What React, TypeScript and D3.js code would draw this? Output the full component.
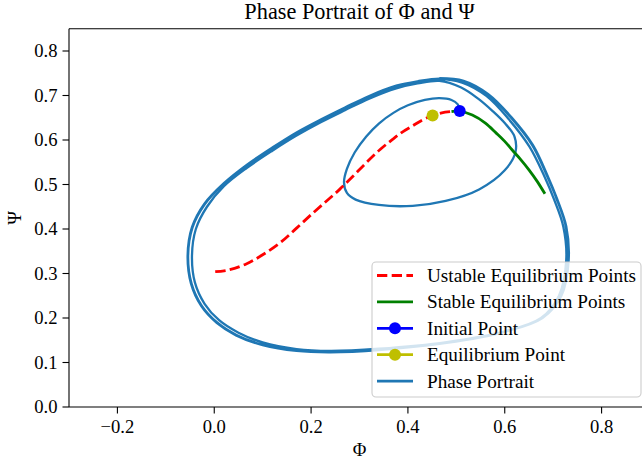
import React from 'react';
import * as d3 from 'd3';

const W = 642;
const H = 463;

// axis limits and ticks
const xDomain: [number, number] = [-0.3, 0.9];
const yDomain: [number, number] = [0, 0.85];
const xTicks = [-0.2, 0.0, 0.2, 0.4, 0.6, 0.8];
const yTicks = [0.0, 0.1, 0.2, 0.3, 0.4, 0.5, 0.6, 0.7, 0.8];

const titleText = 'Phase Portrait of Φ and Ψ';
const xLabel = 'Φ';
const yLabel = 'Ψ';

// unstable equilibrium points (red dashed)
const unstablePhi = [0.002, 0.03, 0.067, 0.10, 0.136, 0.17, 0.204, 0.232, 0.259, 0.287, 0.314, 0.342, 0.369, 0.39, 0.41, 0.43, 0.451, 0.47, 0.49];
const unstablePsi = [0.304, 0.308, 0.322, 0.342, 0.369, 0.402, 0.436, 0.463, 0.489, 0.519, 0.549, 0.578, 0.602, 0.619, 0.632, 0.645, 0.655, 0.661, 0.664];

// stable equilibrium points (green)
const stablePhi = [0.49, 0.507, 0.533, 0.56, 0.582, 0.60, 0.615, 0.633, 0.650, 0.667, 0.683];
const stablePsi = [0.664, 0.665, 0.656, 0.638, 0.616, 0.597, 0.578, 0.556, 0.533, 0.507, 0.479];

const initialPoint: [number, number] = [0.507, 0.665];
const equilibriumPoint: [number, number] = [0.451, 0.655];

// phase portrait trajectory: inner loop, then three outer loops
const innerLoop: [number, number][] = [
  [0.507, 0.665], [0.503, 0.680], [0.49, 0.690], [0.465, 0.694], [0.435, 0.690], [0.40, 0.678],
  [0.37, 0.661], [0.34, 0.637], [0.314, 0.608], [0.29, 0.572], [0.274, 0.535], [0.268, 0.505],
  [0.274, 0.481], [0.292, 0.466], [0.34, 0.454], [0.41, 0.452], [0.478, 0.463], [0.547, 0.489],
  [0.600, 0.532], [0.622, 0.572], [0.62, 0.608], [0.60, 0.638], [0.575, 0.665], [0.545, 0.693],
  [0.51, 0.718],
];
const outerLoop1: [number, number][] = [
  [0.465, 0.733], [0.42, 0.727], [0.376, 0.716], [0.32, 0.693], [0.27, 0.667], [0.22, 0.640],
  [0.17, 0.610], [0.12, 0.576], [0.067, 0.537], [0.02, 0.496], [-0.015, 0.450], [-0.038, 0.400],
  [-0.046, 0.340], [-0.040, 0.280], [-0.020, 0.232], [0.01, 0.195], [0.05, 0.167], [0.10, 0.145],
  [0.17, 0.130], [0.24, 0.126], [0.34, 0.131], [0.48, 0.146], [0.60, 0.170], [0.675, 0.200],
  [0.712, 0.250], [0.727, 0.330], [0.721, 0.405], [0.702, 0.466], [0.682, 0.518], [0.651, 0.585],
  [0.608, 0.647], [0.562, 0.699], [0.512, 0.729],
];
const outerLoop2: [number, number][] = [
  [0.465, 0.737], [0.42, 0.731], [0.376, 0.721], [0.32, 0.698], [0.27, 0.672], [0.22, 0.645],
  [0.17, 0.616], [0.12, 0.582], [0.067, 0.543], [0.02, 0.502], [-0.02, 0.455], [-0.045, 0.403],
  [-0.054, 0.340], [-0.047, 0.278], [-0.026, 0.228], [0.006, 0.190], [0.046, 0.162], [0.10, 0.140],
  [0.17, 0.127], [0.24, 0.124], [0.34, 0.129], [0.48, 0.145], [0.60, 0.170], [0.677, 0.200],
  [0.716, 0.250], [0.731, 0.330], [0.726, 0.406], [0.707, 0.468], [0.687, 0.520], [0.657, 0.588],
  [0.613, 0.650], [0.565, 0.702], [0.514, 0.732],
];
const outerLoop3: [number, number][] = [
  [0.465, 0.738], [0.42, 0.732], [0.376, 0.722], [0.32, 0.699], [0.27, 0.673], [0.22, 0.646],
  [0.17, 0.617], [0.12, 0.583], [0.067, 0.544], [0.02, 0.503], [-0.021, 0.456], [-0.046, 0.404],
  [-0.055, 0.340], [-0.048, 0.277], [-0.027, 0.227], [0.005, 0.189], [0.045, 0.161], [0.10, 0.139],
  [0.17, 0.126], [0.24, 0.123], [0.34, 0.128], [0.48, 0.144], [0.60, 0.169], [0.678, 0.200],
  [0.717, 0.250], [0.732, 0.330], [0.727, 0.406], [0.708, 0.468], [0.688, 0.521], [0.658, 0.589],
  [0.614, 0.651], [0.566, 0.703], [0.515, 0.733], [0.465, 0.739],
];

const legendLabels = [
  'Ustable Equilibrium Points',
  'Stable Equilibrium Points',
  'Initial Point',
  'Equilibrium Point',
  'Phase Portrait',
];

const FONT = '"Liberation Serif", "DejaVu Serif", serif';
const C_PORTRAIT = '#1f77b4';

export default function App() {
  const x = d3.scaleLinear().domain(xDomain).range([69, 650]);
  const y = d3.scaleLinear().domain(yDomain).range([407, 28.75]);
  const fmt = d3.format('.1f');

  const line = d3
    .line<[number, number]>()
    .x((d) => x(d[0]))
    .y((d) => y(d[1]))
    .curve(d3.curveCatmullRom.alpha(0.5));

  const unstable: [number, number][] = unstablePhi.map((v, i) => [v, unstablePsi[i]]);
  const stable: [number, number][] = stablePhi.map((v, i) => [v, stablePsi[i]]);
  const trajectory = [...innerLoop, ...outerLoop1, ...outerLoop2, ...outerLoop3];

  const x0 = 69, x1 = 650, yTop = 28.75, yBot = 407;
  const fs = 18.6;
  const legFs = 19.2;

  const legX = 372, legY = 262, legW = 269, legH = 135;
  const rowY = (i: number) => legY + 13.5 + i * 26.4;

  return (
    <svg width={W} height={H} style={{ position: 'absolute', left: 0, top: 0, background: '#fff' }} fontFamily={FONT}>
      <rect x={0} y={0} width={W} height={H} fill="#fff" />
      {/* data */}
      <path d={line(trajectory) || ''} fill="none" stroke={C_PORTRAIT} strokeWidth={2.3} strokeLinejoin="round" />
      <path d={line(unstable) || ''} fill="none" stroke="red" strokeWidth={2.8} strokeDasharray="10.3,4.4" />
      <path d={line(stable) || ''} fill="none" stroke="green" strokeWidth={2.8} />
      <circle cx={x(initialPoint[0])} cy={y(initialPoint[1])} r={6} fill="blue" />
      <circle cx={x(equilibriumPoint[0])} cy={y(equilibriumPoint[1])} r={6} fill="#bfbf00" />

      {/* spines */}
      <g stroke="#000" strokeWidth={1.1} fill="none">
        <line x1={x0} x2={x0} y1={yTop} y2={yBot} />
        <line x1={x1} x2={x1} y1={yTop} y2={yBot} />
        <line x1={x0} x2={x1} y1={yTop} y2={yTop} />
        <line x1={x0} x2={x1} y1={yBot} y2={yBot} />
      </g>

      {/* x ticks */}
      {xTicks.map((t) => (
        <g key={'x' + t}>
          <line x1={x(t)} x2={x(t)} y1={yBot} y2={yBot + 6.5} stroke="#000" strokeWidth={1.1} />
          <text x={x(t)} y={433} textAnchor="middle" fontSize={fs} fill="#000">{fmt(t)}</text>
        </g>
      ))}
      {/* y ticks */}
      {yTicks.map((t) => (
        <g key={'y' + t}>
          <line x1={x0 - 6.5} x2={x0} y1={y(t)} y2={y(t)} stroke="#000" strokeWidth={1.1} />
          <text x={57.5} y={y(t)} dy="0.34em" textAnchor="end" fontSize={fs} fill="#000">{fmt(t)}</text>
        </g>
      ))}

      {/* labels */}
      <text x={(x0 + x1) / 2} y={18.5} textAnchor="middle" fontSize={22.3} fill="#000">{titleText}</text>
      <text x={(x0 + x1) / 2} y={456} textAnchor="middle" fontSize={fs} fill="#000">{xLabel}</text>
      <text transform={`translate(21, ${(yTop + yBot) / 2}) rotate(-90)`} textAnchor="middle" fontSize={fs} fill="#000">{yLabel}</text>

      {/* legend */}
      <rect x={legX} y={legY} width={legW} height={legH} rx={4} ry={4} fill="#fff" fillOpacity={0.8} stroke="#cccccc" strokeWidth={1.1} />
      {legendLabels.map((lab, i) => {
        const ry = rowY(i);
        const lx1 = 377, lx2 = 413;
        let handle: React.ReactNode = null;
        if (i === 0) handle = <line x1={lx1} x2={lx2} y1={ry} y2={ry} stroke="red" strokeWidth={2.8} strokeDasharray="10.3,4.4" />;
        else if (i === 1) handle = <line x1={lx1} x2={lx2} y1={ry} y2={ry} stroke="green" strokeWidth={2.8} />;
        else if (i === 2) handle = (<g><line x1={lx1} x2={lx2} y1={ry} y2={ry} stroke="blue" strokeWidth={2.8} /><circle cx={(lx1 + lx2) / 2} cy={ry} r={6} fill="blue" /></g>);
        else if (i === 3) handle = (<g><line x1={lx1} x2={lx2} y1={ry} y2={ry} stroke="#bfbf00" strokeWidth={2.8} /><circle cx={(lx1 + lx2) / 2} cy={ry} r={6} fill="#bfbf00" /></g>);
        else handle = <line x1={lx1} x2={lx2} y1={ry} y2={ry} stroke={C_PORTRAIT} strokeWidth={2.8} />;
        return (
          <g key={lab}>
            {handle}
            <text x={427} y={ry} dy="0.34em" fontSize={legFs} fill="#000">{lab}</text>
          </g>
        );
      })}
    </svg>
  );
}
